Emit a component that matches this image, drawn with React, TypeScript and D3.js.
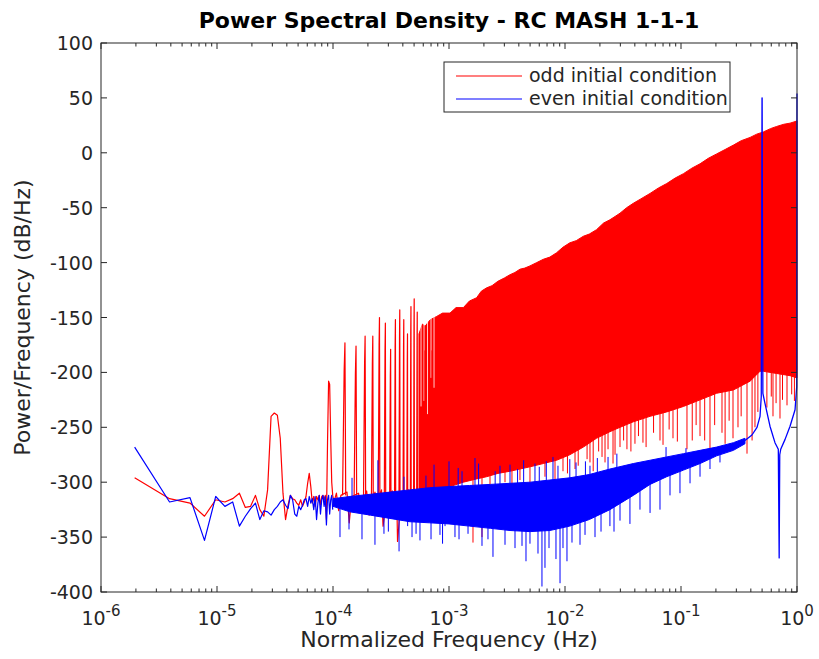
import React from "react";
import * as d3 from "d3";

// ---------------- data ----------------
// low-frequency FFT bins (Hz, normalized)
const lowFreqs = [
  1.95e-6, 3.9e-6, 5.85e-6, 7.8e-6, 9.75e-6, 1.17e-5, 1.365e-5, 1.56e-5, 1.755e-5, 1.95e-5,
  2.145e-5, 2.34e-5, 2.535e-5, 2.73e-5, 2.925e-5, 3.12e-5, 3.315e-5, 3.51e-5, 3.705e-5, 3.9e-5,
  4.095e-5, 4.29e-5, 4.485e-5, 4.68e-5, 4.875e-5, 5.07e-5, 5.265e-5, 5.46e-5, 5.655e-5, 5.85e-5,
  6.045e-5, 6.24e-5, 6.435e-5, 6.63e-5, 6.825e-5, 7.02e-5, 7.215e-5, 7.41e-5, 7.605e-5, 7.8e-5,
  7.995e-5, 8.19e-5, 8.385e-5, 8.58e-5, 8.775e-5, 8.97e-5, 9.165e-5, 9.36e-5, 9.555e-5, 9.75e-5,
  9.945e-5,
];
const oddLow = [
  -296, -315, -319, -331, -316, -318, -315, -310, -323, -322,
  -312, -325, -331, -307, -240, -237, -239, -260, -310, -334,
  -321, -312, -315, -316, -319, -321, -316, -322, -318, -313,
  -301, -292, -304, -319, -313, -322, -313, -316, -312, -321,
  -313, -312, -316, -312, -334, -264, -208, -211, -260, -300,
  -312,
];
const evenLow = [
  -268, -318, -314, -353, -313, -322, -318, -340, -331, -324,
  -319, -334, -326, -327, -330, -325, -322, -318, -316, -321,
  -324, -312, -316, -329, -331, -322, -325, -321, -316, -315,
  -322, -313, -319, -315, -325, -313, -334, -319, -312, -329,
  -316, -312, -322, -313, -339, -316, -312, -329, -316, -312,
  -325,
];

// odd: noise floor between the isolated harmonics
const oddFloorF = [
  1.02e-4, 1.07e-4, 1.12e-4, 1.17e-4, 1.32e-4, 1.38e-4, 1.45e-4, 1.66e-4, 1.72e-4, 1.95e-4,
  2.05e-4, 2.3e-4, 2.4e-4, 2.62e-4, 2.7e-4, 2.95e-4, 3.25e-4, 3.55e-4, 3.6e-4, 3.9e-4,
  4.2e-4, 4.5e-4, 4.75e-4, 5.05e-4, 5.35e-4, 5.6e-4,
];
const oddFloorV = [
  -318, -310, -326, -312, -309, -337, -313, -310, -322, -308,
  -330, -309, -316, -307, -340, -310, -308, -318, -354, -309,
  -312, -307, -320, -308, -312, -310,
];
// odd: isolated harmonic spikes
const oddSpikeF = [
  1.248e-4, 1.56e-4, 1.872e-4, 2.184e-4, 2.496e-4, 2.808e-4, 3.12e-4, 3.432e-4, 3.744e-4,
  4.056e-4, 4.368e-4, 4.68e-4, 4.992e-4, 5.304e-4,
];
const oddSpikeTop = [-198, -201, -192, -192, -175, -180, -204, -177, -168, -177, -190, -165, -158, -170];

// odd: dense harmonic comb, upper edge
const oddTopF = [
  5.51e-4, 5.9e-4, 6.21e-4, 6.9e-4, 7.84e-4, 8.8e-4, 1.02e-3, 1.15e-3, 1.33e-3, 1.5e-3,
  1.73e-3, 1.9e-3, 2.11e-3, 2.35e-3, 2.64e-3, 3.0e-3, 3.36e-3, 3.7e-3, 4.09e-3, 4.5e-3,
  4.99e-3, 5.7e-3, 6.5e-3, 7.4e-3, 8.47e-3, 9.6e-3, 1.1e-2, 1.25e-2, 1.44e-2, 1.62e-2,
  1.87e-2, 2.15e-2, 2.44e-2, 2.7e-2, 2.98e-2, 3.4e-2, 3.88e-2, 4.5e-2, 5.41e-2, 6.4e-2,
  7.53e-2, 8.9e-2, 0.105, 0.124, 0.146, 0.172, 0.203, 0.24, 0.283, 0.33,
  0.394, 0.45, 0.513, 0.59, 0.668, 0.77, 0.871, 1.0,
];
const oddTopV = [
  -165, -156, -158, -152, -149, -146, -146, -141, -141, -135,
  -132, -126, -123, -121, -117, -114, -111, -109, -106, -105,
  -103, -100, -97, -95, -91, -86, -82, -80, -76, -74,
  -70, -64, -61, -58, -55, -50, -46, -42, -37, -32,
  -28, -23, -19, -14, -10, -5, -1, 3, 7, 11,
  14, 17, 19, 22, 24, 26, 27, 29,
];
// odd: dense harmonic comb, lower edge
const oddBottomF = [
  5.51e-4, 6.21e-4, 7.84e-4, 1.02e-3, 1.33e-3, 1.73e-3, 2.11e-3, 2.64e-3, 3.36e-3, 4.09e-3,
  4.99e-3, 6.5e-3, 8.47e-3, 1.1e-2, 1.44e-2, 1.87e-2, 2.44e-2, 2.98e-2, 3.88e-2, 5.41e-2,
  7.53e-2, 0.105, 0.146, 0.203, 0.283, 0.394, 0.48, 0.513, 0.668, 0.871, 1.0,
];
const oddBottomV = [
  -314, -312, -308, -304, -300, -297, -295, -292, -290, -288,
  -286, -283, -280, -275, -268, -260, -254, -250, -245, -240,
  -236, -231, -225, -219, -216, -208, -199, -199, -201, -203, -205,
];
// odd: white gaps between the first comb teeth (top down to value)
const oddGapF = [5.74e-4, 6.09e-4, 6.53e-4, 7.0e-4, 7.43e-4];
const oddGapV = [-231, -226, -238, -205, -214];
// odd: single lines reaching below the comb
const oddDipF = [
  6.21e-4, 7.14e-4, 8.36e-4, 1.083e-3, 1.61e-3, 1.925e-3, 2.257e-3, 3.04e-3, 3.49e-3, 4.09e-3,
  4.99e-3, 6.72e-3, 8.2e-3, 9.61e-3, 1.05e-2, 1.22e-2, 1.3e-2, 1.55e-2, 1.642e-2, 1.75e-2,
  1.95e-2, 2.085e-2, 2.213e-2, 2.35e-2, 2.594e-2, 2.7e-2, 2.98e-2, 3.2e-2, 3.42e-2, 3.7e-2,
  4.01e-2, 4.3e-2, 4.7e-2, 5.0e-2, 5.8e-2, 6.59e-2, 7.0e-2, 7.9e-2, 8.53e-2, 9.3e-2,
  0.1126, 0.125, 0.135, 0.1459, 0.16, 0.1778, 0.195, 0.2256, 0.24, 0.26,
  0.2808, 0.31, 0.33, 0.3707, 0.41, 0.4343, 0.46, 0.55, 0.6, 0.6209,
  0.66, 0.7135, 0.75, 0.82, 0.9, 0.95,
];
const oddDipV = [
  -330, -320, -335, -318, -355, -350, -305, -300, -310, -298,
  -303, -295, -300, -290, -292, -288, -285, -279, -282, -290,
  -272, -277, -282, -270, -283, -275, -268, -262, -270, -272,
  -265, -258, -264, -268, -255, -262, -266, -252, -260, -263,
  -270, -262, -248, -258, -262, -275, -248, -255, -265, -244,
  -260, -250, -240, -274, -262, -250, -236, -232, -222, -240,
  -228, -242, -225, -230, -220, -226,
];

// even: noise band
const evenBandF = [
  1.0e-4, 1.4e-4, 2.1e-4, 3.1e-4, 4.6e-4, 6.8e-4, 1.0e-3, 1.5e-3, 2.27e-3, 3.36e-3,
  5.0e-3, 7.4e-3, 1.1e-2, 1.62e-2, 2.44e-2, 3.88e-2, 5.41e-2, 7.53e-2, 0.105, 0.146,
  0.203, 0.283, 0.356,
];
const evenBandTop = [
  -315, -313, -311, -309, -307, -305, -304, -303, -302, -301,
  -300, -298, -296, -293, -288, -283, -280, -277, -274, -271,
  -268, -264, -260,
];
const evenBandBottom = [
  -322, -327, -330, -333, -336, -337, -338, -340, -342, -344,
  -345, -344, -340, -334, -325, -312, -302, -295, -289, -283,
  -276, -271, -265,
];
// even: single lines leaving the band
const evenSpikeF = [
  1.149e-4, 1.374e-4, 1.459e-4, 1.778e-4, 2.3e-4, 2.44e-4, 2.75e-4, 3.226e-4, 3.71e-4, 4.09e-4,
  4.8e-4, 5.62e-4, 6.33e-4, 7.43e-4, 8.36e-4, 9.24e-4, 1.0e-3, 1.126e-3, 1.295e-3, 1.459e-3,
  1.675e-3, 1.925e-3, 2.168e-3, 2.394e-3, 2.752e-3, 3.04e-3, 3.357e-3, 3.707e-3, 4.26e-3, 4.61e-3,
  4.99e-3, 5.51e-3, 5.85e-3, 6.33e-3, 6.72e-3, 7.28e-3, 7.88e-3, 8.36e-3, 9.06e-3, 9.61e-3,
  1.04e-2, 1.149e-2, 1.245e-2, 1.347e-2, 1.488e-2, 1.642e-2, 1.814e-2, 2.044e-2, 2.35e-2, 2.44e-2,
  2.645e-2, 2.98e-2, 3.63e-2, 4.43e-2, 5.41e-2, 6.59e-2, 7.43e-2, 8.04e-2, 9.8e-2, 0.1104,
  0.1196, 0.1459, 0.1778, 0.2168,
  1.2e-3, 1.8e-3, 2.5e-3, 3.9e-3, 4.4e-3, 6.0e-3, 6.9e-3, 8.7e-3, 1.1e-2, 1.5e-2,
  1.9e-2, 2.8e-2, 3.0e-4, 4.4e-4, 5.2e-4, 7.0e-4, 8.8e-4, 1.22e-3,
];
const evenSpikeV = [
  -350, -343, -296, -352, -357, -280, -347, -333, -363, -295,
  -350, -353, -294, -284, -348, -340, -281, -350, -290, -347,
  -278, -358, -352, -368, -285, -357, -284, -360, -358, -372,
  -356, -283, -365, -395, -378, -360, -277, -370, -392, -360,
  -372, -355, -282, -357, -348, -285, -350, -345, -277, -340,
  -345, -335, -338, -325, -328, -325, -268, -312, -310, -269,
  -301, -295, -288, -282,
  -287, -283, -290, -288, -280, -286, -281, -285, -279, -281,
  -278, -274, -345, -340, -347, -352, -356, -352,
];
// even: resonance region near fs/2
const evenHighF = [
  0.356, 0.409, 0.452, 0.48, 0.492, 0.4995, 0.5005, 0.508, 0.529, 0.585,
  0.646, 0.69, 0.702, 0.71, 0.724, 0.789, 0.871, 0.962, 0.994, 1.0,
];
const evenHighV = [
  -262, -257, -250, -240, -222, 50, 50, -219, -228, -249,
  -264, -270, -369, -275, -270, -261, -249, -234, -213, 54,
];

// axes
const yTicks = [-400, -350, -300, -250, -200, -150, -100, -50, 0, 50, 100];
const xDecades = [-6, -5, -4, -3, -2, -1, 0];
const legendLabels = ["odd initial condition", "even initial condition"];
const seriesColors = ["#ff0000", "#0000ff"];

// ---------------- chart ----------------
const W = 819;
const H = 659;
const L = 101, R = 797, T = 43, B = 592;
const AX = "#262626";
const FONT = "DejaVu Sans";

type P = [number, number];
const zip = (f: number[], v: number[]): P[] => f.map((ff, i) => [ff, v[i]] as P);

export default function App() {
  const x = d3.scaleLog().domain([1e-6, 1]).range([L, R]);
  const y = d3.scaleLinear().domain([-400, 100]).range([B, T]);
  const line = d3.line<P>().x((d) => x(d[0])).y((d) => y(d[1]));
  const band = d3
    .area<{ f: number; t: number; b: number }>()
    .x((d) => x(d.f))
    .y0((d) => y(d.b))
    .y1((d) => y(d.t));

  const df = 1.95e-6;
  const floorLevel = -312;

  const oddLine = line([...zip(lowFreqs, oddLow), ...zip(oddFloorF, oddFloorV)]) || "";
  const oddSpikes = oddSpikeF
    .map((f, i) =>
      line([
        [f - 2 * df, floorLevel],
        [f, oddSpikeTop[i]],
        [f + df, oddSpikeTop[i] + 25],
        [f + 2 * df, floorLevel],
      ])
    )
    .join(" ");
  const oddPoly = [...zip(oddTopF, oddTopV), ...zip(oddBottomF, oddBottomV).reverse()];
  const oddArea = (line(oddPoly) || "") + "Z";
  const oddGaps = oddGapF.map((f, i) => line([[f, -120], [f, oddGapV[i]]])).join(" ");
  const oddDips = oddDipF.map((f, i) => line([[f, oddDipV[i]], [f, -180]])).join(" ");

  const evenLine = line(zip(lowFreqs, evenLow)) || "";
  const evenArea =
    band(evenBandF.map((f, i) => ({ f, t: evenBandTop[i], b: evenBandBottom[i] }))) || "";
  const mid = d3
    .scaleLog()
    .domain(evenBandF)
    .range(evenBandF.map((_, i) => (evenBandTop[i] + evenBandBottom[i]) / 2))
    .clamp(true);
  const evenSpikes = evenSpikeF.map((f, i) => line([[f, mid(f)], [f, evenSpikeV[i]]])).join(" ");
  const evenHigh = line(zip(evenHighF, evenHighV)) || "";

  const minor: number[] = [];
  xDecades.slice(0, -1).forEach((e) => {
    for (let k = 2; k <= 9; k++) minor.push(k * Math.pow(10, e));
  });

  const tickMajor = 6;
  const tickMinor = 3.5;

  return (
    <svg
      width={W}
      height={H}
      style={{ position: "absolute", left: 0, top: 0, background: "#fff" }}
      fontFamily={FONT}
    >
      <rect x={0} y={0} width={W} height={H} fill="#fff" />
      <defs>
        <clipPath id="plot">
          <rect x={L} y={T} width={R - L + 2} height={B - T} />
        </clipPath>
      </defs>

      <g clipPath="url(#plot)" fill="none" strokeLinejoin="round">
        <path d={oddLine} stroke={seriesColors[0]} strokeWidth={1.2} />
        <path d={oddSpikes} stroke={seriesColors[0]} strokeWidth={1.2} />
        <path d={oddArea} fill={seriesColors[0]} stroke={seriesColors[0]} strokeWidth={1} />
        <path d={oddGaps} stroke="#fff" strokeWidth={0.8} />
        <path d={oddDips} stroke={seriesColors[0]} strokeWidth={1} />
        <path d={evenLine} stroke={seriesColors[1]} strokeWidth={1.2} />
        <path d={evenArea} fill={seriesColors[1]} stroke={seriesColors[1]} strokeWidth={1} />
        <path d={evenSpikes} stroke={seriesColors[1]} strokeWidth={1} />
        <path d={evenHigh} stroke={seriesColors[1]} strokeWidth={1.3} />
      </g>

      {/* axes box */}
      <rect x={L} y={T} width={R - L} height={B - T} fill="none" stroke={AX} strokeWidth={1} />
      <g stroke={AX} strokeWidth={1}>
        {yTicks.map((t) => (
          <g key={"y" + t}>
            <line x1={L} x2={L + tickMajor} y1={y(t)} y2={y(t)} />
            <line x1={R} x2={R - tickMajor} y1={y(t)} y2={y(t)} />
          </g>
        ))}
        {xDecades.map((e) => {
          const xx = x(Math.pow(10, e));
          return (
            <g key={"x" + e}>
              <line x1={xx} x2={xx} y1={B} y2={B - tickMajor} />
              <line x1={xx} x2={xx} y1={T} y2={T + tickMajor} />
            </g>
          );
        })}
        {minor.map((m, i) => {
          const xx = x(m);
          return (
            <g key={"m" + i}>
              <line x1={xx} x2={xx} y1={B} y2={B - tickMinor} />
              <line x1={xx} x2={xx} y1={T} y2={T + tickMinor} />
            </g>
          );
        })}
      </g>

      {/* tick labels */}
      <g fill={AX} fontSize={19}>
        {yTicks.map((t) => (
          <text key={"yl" + t} x={L - 8} y={y(t) + 7} textAnchor="end">
            {String(t)}
          </text>
        ))}
        {xDecades.map((e) => (
          <text key={"xl" + e} x={x(Math.pow(10, e))} y={625} textAnchor="middle">
            10
            <tspan dy={-9} fontSize={15}>
              {String(e)}
            </tspan>
          </text>
        ))}
      </g>

      {/* labels */}
      <text x={(L + R) / 2} y={28} textAnchor="middle" fontWeight="bold" fontSize={22} fill="#000">
        Power Spectral Density - RC MASH 1-1-1
      </text>
      <text x={(L + R) / 2} y={647} textAnchor="middle" fontSize={22} fill={AX}>
        Normalized Frequency (Hz)
      </text>
      <text
        transform={`translate(30,${(T + B) / 2}) rotate(-90)`}
        textAnchor="middle"
        fontSize={22}
        fill={AX}
      >
        Power/Frequency (dB/Hz)
      </text>

      {/* legend */}
      <g>
        <rect x={444} y={62} width={286} height={50} fill="#fff" stroke={AX} strokeWidth={1} />
        {legendLabels.map((lab, i) => (
          <g key={lab}>
            <line x1={456} x2={522} y1={76 + i * 23} y2={76 + i * 23} stroke={seriesColors[i]} strokeWidth={1.2} />
            <text x={529} y={82 + i * 23} fontSize={19} fill={AX}>
              {lab}
            </text>
          </g>
        ))}
      </g>
    </svg>
  );
}
